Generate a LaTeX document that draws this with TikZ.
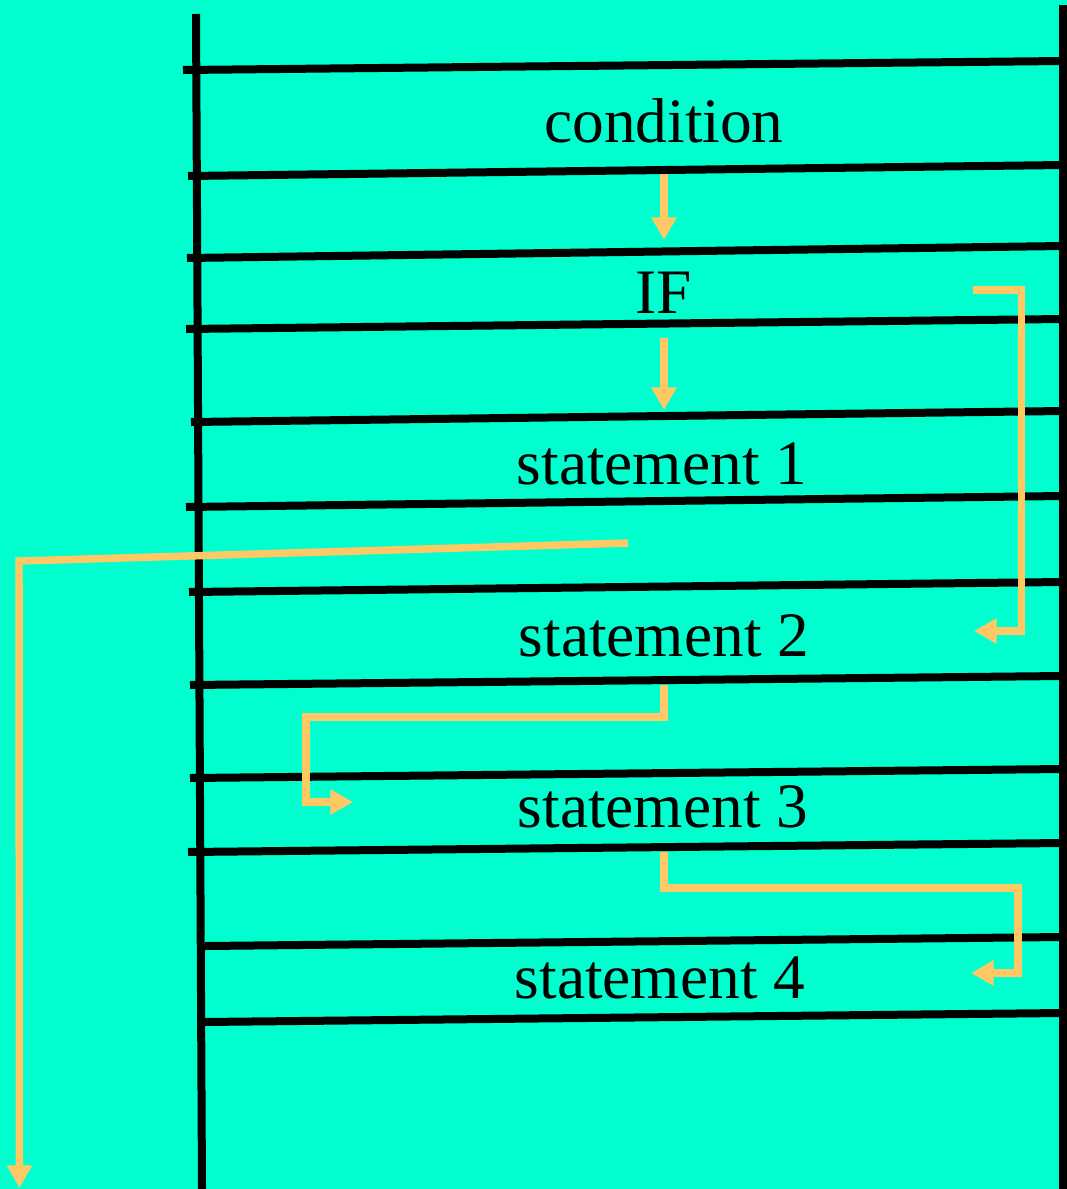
\documentclass[tikz,border=0pt]{standalone}
\usepackage{fontspec}
\setmainfont{Liberation Serif}
\usetikzlibrary{arrows.meta}
\definecolor{bgc}{RGB}{0,255,206}
\definecolor{flow}{RGB}{255,200,100}
\begin{document}
\begin{tikzpicture}[x=0.75pt,y=-0.75pt,
  rail/.style={draw=black,line width=6pt},
  flowline/.style={draw=flow,line width=5.6pt,-{Triangle[length=17pt,width=18pt]}},
  lbl/.style={anchor=base,inner sep=0pt,font=\fontsize{47.5}{56}\selectfont}]
\fill[bgc] (0,0) rectangle (1067,1189);
\useasboundingbox (0,0) rectangle (1067,1189);
% rails
\draw[rail] (196,14) -- (202,1189);
\draw[rail] (1063,5) -- (1063,1189);
% rungs
\draw[rail] (183,70) -- (1063,61);
\draw[rail] (188,176) -- (1063,165);
\draw[rail] (187,258) -- (1063,246);
\draw[rail] (186,329) -- (1063,319);
\draw[rail] (191,422) -- (1063,411);
\draw[rail] (186,507) -- (1063,496);
\draw[rail] (189,592) -- (1063,582);
\draw[rail] (190,685) -- (1063,676);
\draw[rail] (190,778) -- (1063,769);
\draw[rail] (188,852) -- (1063,843);
\draw[rail] (205,946) -- (1063,937);
\draw[rail] (203,1022) -- (1063,1013);
% labels
\node[lbl] (cond) at (664,142) {condition};
\node[lbl] (if) at (664,313) {IF};
\node[lbl] (s1) at (662,484) {statement 1};
\node[lbl] (s2) at (664,656) {statement 2};
\node[lbl] (s3) at (663,827) {statement 3};
\node[lbl] (s4) at (660,998) {statement 4};
% flow coordinates
\coordinate (a1s) at (664,174);
\coordinate (a1e) at (664,240);
\coordinate (a2s) at (664,338);
\coordinate (a2e) at (664,410);
\coordinate (b1) at (973,290);
\coordinate (b2) at (1021.5,290);
\coordinate (b3) at (1021.5,631);
\coordinate (b4) at (974,631);
\coordinate (c1) at (628,543);
\coordinate (c2) at (19,561);
\coordinate (c3) at (19.5,1188);
\coordinate (d1) at (664,685);
\coordinate (d2) at (664,717);
\coordinate (d3) at (306,717);
\coordinate (d4) at (306,802);
\coordinate (d5) at (353,802);
\coordinate (e1) at (664,852);
\coordinate (e2) at (664,888);
\coordinate (e3) at (1018,888);
\coordinate (e4) at (1018,973);
\coordinate (e5) at (971,973);
% flow arrows
\draw[flowline] (a1s) -- (a1e);
\draw[flowline] (a2s) -- (a2e);
\draw[flowline] (b1) -- (b2) -- (b3) -- (b4);
\draw[flowline] (c1) -- (c2) -- (c3);
\draw[flowline] (d1) -- (d2) -- (d3) -- (d4) -- (d5);
\draw[flowline] (e1) -- (e2) -- (e3) -- (e4) -- (e5);
\end{tikzpicture}
\end{document}
